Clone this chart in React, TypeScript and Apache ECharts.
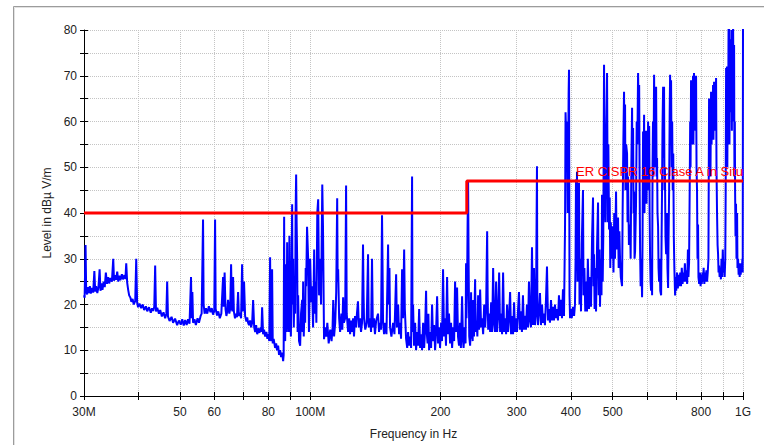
import React, { useEffect, useRef } from 'react';
import * as echarts from 'echarts';

// Frequency in MHz, level in dBµV/m
const trace30to60: number[][] = [
  [30.0,22],[30.1,21.5],[30.25,33],[30.35,23],[30.5,22.2],[30.65,23.8],[30.8,22.5],[30.95,24],[31.1,22.4],[31.3,23.6],[31.5,22.6],[31.7,27.3],[31.85,22.8],[32.0,24],[32.2,22.5],[32.4,23.8],[32.6,27.7],[32.75,23],[32.9,24.6],[33.1,23.2],[33.3,25],[33.5,23.8],[33.7,27],[33.9,24.5],[34.1,26],[34.3,24.6],[34.5,25.8],[34.8,25],[35.05,30],[35.2,25.2],[35.4,26.4],[35.6,25.4],[35.8,27.2],[36.0,25],[36.2,26.3],[36.4,25.3],[36.7,26.6],[36.9,25.5],[37.2,26.4],[37.4,25.6],[37.56,29],[37.75,24.8],[37.95,23.2],[38.15,22],[38.4,21.5],[38.6,20.6],[38.85,21.2],[39.1,20],[39.4,20.8],[39.61,30],[39.8,20.4],[40.0,19.4],[40.3,20.2],[40.67,19.2],[41.0,20],[41.32,18.8],[41.7,19.6],[42.0,18.5],[42.4,19.4],[42.8,18.2],[43.1,19.2],[43.35,18.6],[43.6,19.5],[43.81,28.5],[44.0,18.5],[44.3,19.3],[44.7,18],[45.0,18.8],[45.4,17.4],[45.8,18.3],[46.2,17],[46.5,18],[46.7,25],[46.9,17.4],[47.3,16.4],[47.8,17.3],[48.2,16],[48.7,16.9],[49.25,15.5],[49.7,16.5],[50.2,15.6],[50.6,16.8],[51.0,15.4],[51.4,16.6],[51.8,15.5],[52.2,16.8],[52.6,15.8],[53.02,26],[53.2,17],[53.4,22.7],[53.6,16],[54.0,16.8],[54.4,15.5],[54.9,17],[55.3,16],[55.8,17.5],[56.1,18],[56.35,30],[56.52,38.6],[56.7,20],[57.0,18],[57.4,19.2],[57.8,18],[58.3,19.6],[58.8,18.3],[59.2,19.2],[59.6,17.8],[60.0,18.6],[60.26,38.6],[60.45,19]
];

const trace60to100: number[][] = [
  [60.9,17.6],[61.3,18.5],[61.8,17],[62.3,18],[62.88,26],[63.1,19.5],[63.4,27],[63.7,19],[64.0,17.5],[64.3,18.5],[64.57,21],[65.0,18],[65.3,19],[65.62,28.8],[65.9,19],[66.1,18.5],[66.32,26],[66.6,18.5],[67.0,17],[67.4,18],[67.7,17.2],[68.11,22.7],[68.4,17.5],[68.84,18.2],[69.2,17],[69.58,28.8],[69.9,18.5],[70.3,25],[70.7,17.5],[71.2,16.3],[71.5,17.2],[71.84,16],[72.2,15.5],[72.61,16.5],[73.0,15],[73.4,16],[73.78,21],[74.2,15],[74.6,14],[74.97,15.5],[75.4,13.5],[75.77,14.8],[76.3,13.8],[76.8,15],[77.1,14],[77.4,19.4],[77.8,13.5],[78.2,14.5],[78.65,13],[79.2,14],[79.6,12.5],[80.0,13.5],[80.4,12],[80.76,30.3],[81.0,14],[81.3,12],[81.62,27.7],[81.9,11.5],[82.3,12.5],[82.95,10.5],[83.4,11.5],[83.8,10],[84.28,11],[84.7,9],[85.19,10],[85.6,8.5],[86.1,9.5],[86.56,7.6],[86.8,9],[87.02,39.2],[87.2,15],[87.5,12],[87.95,28.8],[88.2,14],[88.42,33.6],[88.6,16],[88.89,21],[89.2,14],[89.5,35],[89.85,18],[90.2,13],[90.5,25],[90.81,41.9],[91.0,20],[91.29,30],[91.6,15],[91.9,22],[92.27,18],[92.5,40],[92.76,48.4],[93.0,38],[93.26,30],[93.5,14],[93.75,22],[94.2,12],[94.76,11],[95.2,18],[95.77,21],[96.0,14],[96.29,25],[96.6,13],[97.0,20],[97.32,16],[97.6,28],[97.84,24],[98.3,37],[98.89,30],[99.3,14],[99.95,30]
];

const trace100to230: number[][] = [
  [100.5,20.5],[101.0,24],[101.5,15],[102.1,32],[102.5,18],[102.9,25],[103.3,16],[103.8,40],[104.3,43],[104.8,22],[105.4,30],[105.9,20],[106.6,46.2],[107.0,37],[107.3,25],[107.6,12.4],[108.3,15],[108.9,13],[109.5,16],[110.3,11.5],[111.2,14.5],[112.0,12],[112.6,15],[113.0,21],[113.5,13],[114.2,16],[114.8,22.7],[115.4,43.2],[115.7,25],[116.0,27.7],[116.6,17],[117.2,14],[118.0,18],[118.6,14.5],[119.1,21.6],[119.6,16],[120.4,17],[121.0,46],[121.4,18],[122.3,14],[123.0,17],[123.6,13.5],[124.3,16.5],[125.0,14],[125.6,17],[126.2,13],[126.9,17.5],[127.5,15],[128.2,18],[128.9,20.7],[129.5,15],[130.3,17],[131.0,14],[131.7,16],[132.4,33.1],[132.8,22],[133.1,17],[134.0,14.5],[135.0,16],[136.0,31],[136.5,15],[137.4,17],[138.2,14],[138.9,30],[139.5,15],[140.3,17],[141.1,13.5],[142.0,16.5],[143.4,18],[144.2,14],[144.9,16],[145.7,14.5],[146.5,39.5],[146.9,28.6],[147.3,16],[148.1,13.5],[148.9,16],[150.0,13.5],[151.3,33.1],[151.8,20],[152.4,28],[152.9,15],[154.0,13],[155.4,16],[156.5,13.5],[157.9,26.6],[158.6,15],[159.6,20],[160.4,13.5],[161.3,16],[162.1,12.5],[163.0,27.7],[163.8,17],[164.8,32],[165.4,19],[166.5,12.5],[167.5,10.5],[168.3,14],[169.2,11],[170.1,13],[171.0,10.5],[171.9,48],[172.3,14],[172.8,20],[173.7,11],[174.7,16],[175.6,10],[176.5,14],[177.5,11],[178.5,19],[179.4,10.5],[180.4,13.5],[181.3,10],[182.3,16],[183.3,10.5],[184.2,14.5],[185.2,23],[185.8,14],[186.7,11.5],[187.5,18],[188.2,10],[189.2,14],[190.2,10.5],[191.2,20],[192.2,12],[193.3,15.5],[194.3,10],[195.3,14],[196.4,21.8],[197.4,11.5],[198.5,15],[199.5,10.5],[200.6,16],[201.6,12],[202.7,27.7],[203.8,13],[204.9,17],[205.9,11],[207.1,26],[208.1,13.5],[209.2,18],[210.4,11.5],[211.5,16],[212.7,10.5],[213.8,15],[215.0,12],[216.1,25],[217.2,14],[218.4,23.7],[219.5,13],[220.7,11],[221.8,16],[222.9,10.5],[224.3,21.8],[225.4,12],[226.1,10.5],[227.3,15],[228.5,11.5],[229.1,29],[229.6,17]
];

const trace230to400: number[][] = [
  [230.4,25],[231.0,38],[231.6,47],[232.2,30],[233.0,13],[234.1,11],[234.8,15],[235.3,22.7],[236.0,12.5],[236.6,15.5],[237.3,12],[238.0,21],[239.0,13],[240.4,25.5],[241.2,14],[242.3,16.5],[243.3,13],[244.3,22],[245.5,14.5],[246.9,23.3],[248.2,15],[249.5,17],[250.9,13.5],[252.3,20],[253.6,15],[254.9,19],[256.3,36],[257.0,22],[257.7,14.5],[259.0,18],[260.4,14],[261.8,20.5],[263.2,14],[264.6,28],[265.9,16],[267.3,14],[268.8,25],[270.2,14],[271.7,17.5],[273.2,27],[274.6,14],[276.0,18],[277.5,13.5],[279.0,27],[280.5,14],[282.0,17],[283.5,13.5],[285.0,20],[286.5,14],[288.0,17],[289.6,22.7],[291.1,13.5],[292.6,17.5],[294.2,13.5],[295.8,20.5],[297.3,14],[298.9,17],[300.4,14],[302.0,18.5],[303.6,22.7],[305.2,14.5],[306.8,18.5],[308.4,14],[310.1,22],[311.7,14.5],[313.4,17.5],[315.1,14.5],[316.8,20],[318.5,15],[320.2,25],[321.9,16.5],[323.6,15],[325.4,32.5],[326.5,20],[327.1,15.5],[328.8,28],[330.6,15.5],[332.3,18],[334.1,50.2],[334.8,20],[335.9,15.5],[337.7,18.5],[339.5,22.5],[341.3,15.5],[343.2,20],[345.0,16],[346.8,18],[348.6,15.5],[350.5,21],[352.4,28.3],[354.3,16.5],[356.1,19],[358.0,16],[360.0,21],[361.9,16.5],[363.8,19.5],[365.8,16.5],[367.7,20],[369.7,17],[371.6,19],[373.6,16.5],[375.6,22],[377.6,17.5],[379.7,21],[381.7,17],[383.7,23.3],[385.8,17.5],[387.9,37],[389.0,62],[390.0,58],[391.0,60],[392.0,59],[393.2,40],[394.5,50],[395.4,66],[396.2,71.3],[397.3,22],[398.4,17]
];

const trace400to1000: number[][] = [
  [400,19],[402,17],[404.7,19.5],[407,17.5],[409,20],[410.3,30],[411.2,47.3],[412,28],[413.4,49],[414.5,25],[416,35],[417.8,46.6],[419,20],[420.5,30],[422.3,18.5],[424,33],[426.8,45],[428,22],[430,28],[432,18.5],[434,25],[436,18.5],[438,30],[440.7,19],[443,26],[445.4,19.5],[448,35],[450.2,43.4],[451.5,24],[452.6,31],[454,19],[456,28],[457.5,18.5],[460,33],[462.4,42.3],[464,22],[466,32],[467.3,19.5],[469,30],[471,22],[472.3,44],[474,25],[475.5,35],[477.4,72.4],[479,52],[481,38],[482.5,53],[484,62],[485.1,70.6],[487,38],[488.5,55],[490.3,36.4],[492,43.4],[493.5,28],[495,38],[496.5,30],[498.2,37],[500,36.8],[502,27],[504,40],[506,30],[508.9,44.7],[510.5,32],[512,38],[514.3,39],[516,28],[518,36],[519.8,30],[522,26],[525.4,24],[527,40],[529,55],[531,66.5],[532.5,50],[533.9,63.7],[535,45],[537,55],[539.6,53],[541,38],[542.5,48],[545,33],[548.3,37.5],[550,30],[552,50],[554.2,63],[555.5,48],[557.2,58.6],[558.5,40],[560.1,44.7],[561.5,30],[563.1,31.6],[566,42],[568,60],[570,55],[572.2,70.6],[574,62],[575.5,68],[577,45],[578.3,32],[580,24],[582,30],[584.5,21.6],[586,35],[587.6,57.8],[589,45],[590.8,61.5],[592,40],[593.5,55],[595,48],[597.1,58],[598.5,42],[600,52],[601.5,45],[603.5,60],[605,50],[607,59],[608.5,40],[610,30],[611.5,25],[613.2,23],[615,30],[616.5,22],[618,50],[619.5,60],[621,48],[623.1,70.2],[624.5,55],[626,67],[627.5,50],[629.8,67.6],[631.5,48],[633,52],[634.5,40],[636.5,37],[638,28],[640,25],[642,30],[644,23],[646.8,22],[648.5,35],[650,45],[651.5,58],[653.7,67.6],[655,52],[657,67.6],[658.5,45],[660,50],[662,35],[664.2,31],[665.5,38],[667,40],[669,28],[671.3,23.6],[673,35],[675,45],[677,62],[678.5,70.2],[680,55],[682,69],[684,50],[686,60],[688,45],[690,53],[692,35],[694,28],[696.8,22],[699,26],[701,23],[704,27],[707,23.5],[710,26.5],[713,24],[716,27],[719,24],[722,28],[725,24.5],[728,27],[731,25],[734,29],[737,25],[740,27.5],[743,24.5],[746,32],[748,26],[750.5,29],[753,45],[755,60],[756.5,50],[758.5,69],[760.5,55],[762,66],[764,58],[766.6,70],[768,55],[770.5,70.6],[772.5,60],[774.5,64],[777,58],[779,70],[781,50],[783,45],[785,30],[787.3,37.5],[789,26],[792,24.5],[795,27],[798,24],[800,26.5],[803,24.5],[806,27],[808.6,25],[811,28],[814,24.5],[817,27],[820,25],[823,27.5],[826,25],[829,27],[832,30],[834.8,65],[837,52],[839,62],[841,48],[843.7,66.5],[846,55],[848,64],[850,58],[852.7,68],[854.5,56],[857.3,68.7],[859.5,60],[862,66],[864,58],[866.5,69.5],[868.5,50],[871,40],[873.5,33],[875.8,31],[878,27],[880.5,28.5],[883,26],[886,28],[889,25.5],[892,30],[895,26],[898,32],[901,27],[904,29],[907,26],[910,30],[912,45],[914,71.7],[916,55],[918,72],[920,50],[922,68],[924,60],[926,80],[928.7,82],[930.5,55],[932.5,78],[934.5,62],[936.5,76],[938.6,65],[940.5,80],[942.5,58],[944.5,76],[946.5,60],[948.6,82],[950.5,68],[952,74],[953.7,76.7],[955.5,48],[957.5,60],[958.8,45],[961,35],[963.5,42],[966,30],[969.1,40],[971,28],[974.2,30],[977,26.5],[980,29],[982.5,26],[984.7,28],[988,26.5],[991,29],[994,27],[996.5,30],[998.5,27],[1000,82]
];

const limitFreq = [30, 230, 230, 1000];
const limitLevel = [40, 40, 47, 47];
const limitName = 'ER CISPR 16 Clase A in Situ';

const xTickFreqs = [30, 40, 50, 60, 70, 80, 90, 100, 200, 300, 400, 500, 600, 700, 800, 900, 1000];
const xLabelFreqs = [30, 50, 60, 80, 100, 200, 300, 400, 500, 800, 1000];
const xLabelTexts = ['30M', '50', '60', '80', '100M', '200', '300', '400', '500', '800', '1G'];

const yMin = 0;
const yMax = 80;
const yStep = 10;

export default function App() {
  const ref = useRef<HTMLDivElement>(null);

  useEffect(() => {
    if (!ref.current) return;
    const chart = echarts.init(ref.current, null, { renderer: 'svg' });
    const lg = (f: number) => Math.log10(f);
    const trace = [...trace30to60, ...trace60to100, ...trace100to230, ...trace230to400, ...trace400to1000]
      .map(([f, v]) => [lg(f), v]);
    const labelMap = new Map<string, string>(xLabelFreqs.map((f, i) => [lg(f).toFixed(4), xLabelTexts[i]]));
    const font = '"Liberation Sans", Arial, sans-serif';
    const gridStyle = { color: '#c4c4c4', type: 'dotted' as const, width: 1 };
    const xMin = lg(xTickFreqs[0]);
    const xMax = lg(xTickFreqs[xTickFreqs.length - 1]);
    const last = limitFreq.length - 1;
    const limitData = limitFreq.map((f, i) =>
      i === last
        ? {
            value: [lg(f), limitLevel[i]],
            label: {
              show: true,
              position: 'top',
              align: 'right',
              distance: 3,
              formatter: limitName,
              color: '#ff0000',
              fontSize: 13,
              fontFamily: font,
            },
          }
        : [lg(f), limitLevel[i]]
    );

    chart.setOption({
      animation: false,
      graphic: [
        {
          type: 'rect',
          silent: true,
          z: -10,
          shape: { x: 13.5, y: 6.5, width: 820, height: 520 },
          style: { fill: 'none', stroke: '#9c9c9c', lineWidth: 1 },
        },
        {
          type: 'rect',
          silent: true,
          z: -10,
          shape: { x: 14.5, y: 7.5, width: 820, height: 520 },
          style: { fill: 'none', stroke: '#e2e2e2', lineWidth: 1 },
        },
      ],
      grid: { left: 84, top: 30, width: 659, height: 367, containLabel: false },
      xAxis: [
        {
          type: 'value',
          min: xMin,
          max: xMax,
          position: 'bottom',
          axisLine: { show: true, onZero: false, lineStyle: { color: '#000', width: 1 } },
          axisTick: { show: true, customValues: xTickFreqs.map(lg), length: 4, lineStyle: { color: '#000' } },
          axisLabel: {
            show: true,
            customValues: xLabelFreqs.map(lg),
            formatter: (v: number) => labelMap.get(v.toFixed(4)) ?? '',
            margin: 10,
            color: '#222',
            fontSize: 12,
            fontFamily: font,
          },
          splitLine: { show: true, lineStyle: gridStyle },
          name: 'Frequency in Hz',
          nameLocation: 'middle',
          nameGap: 32,
          nameTextStyle: { color: '#222', fontSize: 12, fontFamily: font },
        },
        {
          type: 'value',
          min: xMin,
          max: xMax,
          position: 'bottom',
          axisLine: { show: false, onZero: false },
          axisTick: { show: true, inside: true, customValues: xTickFreqs.map(lg), length: 4, lineStyle: { color: '#000' } },
          axisLabel: { show: false },
          splitLine: { show: false },
        },
      ],
      yAxis: [
        {
          type: 'value',
          min: yMin,
          max: yMax,
          interval: yStep,
          position: 'left',
          axisLine: { show: true, onZero: false, lineStyle: { color: '#000', width: 1 } },
          axisTick: { show: true, length: 4, lineStyle: { color: '#000' } },
          minorTick: { show: true, splitNumber: 2, length: 4, lineStyle: { color: '#000' } },
          axisLabel: { margin: 7, color: '#222', fontSize: 12, fontFamily: font },
          splitLine: { show: true, lineStyle: gridStyle },
          minorSplitLine: { show: true, lineStyle: gridStyle },
          name: 'Level in dBµ V/m',
          nameLocation: 'middle',
          nameGap: 31,
          nameRotate: 90,
          nameTextStyle: { color: '#222', fontSize: 12, fontFamily: font },
        },
        {
          type: 'value',
          min: yMin,
          max: yMax,
          interval: yStep,
          position: 'left',
          axisLine: { show: false, onZero: false },
          axisTick: { show: true, inside: true, length: 4, lineStyle: { color: '#000' } },
          minorTick: { show: true, splitNumber: 2, length: 4, lineStyle: { color: '#000' } },
          axisLabel: { show: false },
          splitLine: { show: false },
          minorSplitLine: { show: false },
        },
      ],
      series: [
        {
          type: 'line',
          xAxisIndex: 0,
          yAxisIndex: 0,
          data: trace,
          showSymbol: false,
          symbol: 'none',
          silent: true,
          lineStyle: { color: '#0000ff', width: 2 },
          z: 2,
        },
        {
          type: 'line',
          xAxisIndex: 0,
          yAxisIndex: 0,
          data: limitData,
          showSymbol: true,
          symbol: 'circle',
          symbolSize: 0,
          silent: true,
          lineStyle: { color: '#ff0000', width: 3 },
          itemStyle: { color: '#ff0000' },
          z: 3,
        },
      ],
    });

    return () => {
      chart.dispose();
    };
  }, []);

  return (
    <div
      ref={ref}
      style={{ position: 'fixed', left: 0, top: 0, width: 764, height: 445, background: '#fff' }}
    />
  );
}
